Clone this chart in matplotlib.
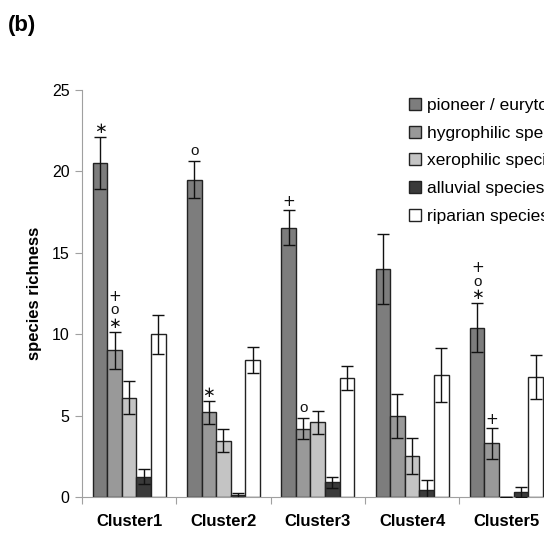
import numpy as np
import matplotlib.pyplot as plt

plt.rcParams['font.family'] = ['Liberation Sans', 'DejaVu Sans']

clusters = ['Cluster1', 'Cluster2', 'Cluster3', 'Cluster4', 'Cluster5']
groups = ['pioneer / eurytopic species', 'hygrophilic species', 'xerophilic species',
          'alluvial species', 'riparian species']

pioneer = [20.5, 19.5, 16.55, 14.0, 10.4]
pioneer_err = [1.6, 1.15, 1.1, 2.15, 1.5]
hygrophilic = [9.0, 5.2, 4.2, 5.0, 3.3]
hygrophilic_err = [1.15, 0.7, 0.65, 1.35, 0.95]
xerophilic = [6.1, 3.45, 4.6, 2.5, 0.0]
xerophilic_err = [1.0, 0.7, 0.7, 1.1, 0.0]
alluvial = [1.25, 0.1, 0.9, 0.45, 0.3]
alluvial_err = [0.45, 0.15, 0.35, 0.6, 0.3]
riparian = [10.0, 8.4, 7.3, 7.5, 7.35]
riparian_err = [1.2, 0.8, 0.75, 1.65, 1.35]

# significance marks: (cluster, group, symbols from top to bottom)
STAR, CIRC, PLUS = r'$\ast$', 'o', r'$+$'
marks = [(0, 0, [STAR]), (0, 1, [PLUS, CIRC, STAR]), (1, 0, [CIRC]), (1, 1, [STAR]),
         (2, 0, [PLUS]), (2, 1, [CIRC]), (4, 0, [PLUS, CIRC, STAR]), (4, 1, [PLUS])]

values = [pioneer, hygrophilic, xerophilic, alluvial, riparian]
errors = [pioneer_err, hygrophilic_err, xerophilic_err, alluvial_err, riparian_err]
colors = ['#7d7d7d', '#999999', '#c4c4c4', '#3a3a3a', '#ffffff']

fig = plt.figure(figsize=(5.44, 5.33), dpi=100)
ax = fig.add_axes([82 / 544, 36 / 533, 471.5 / 544, 407 / 533])

w = 0.155
centers = np.arange(len(clusters)) + 0.5
for j, (vals, errs) in enumerate(zip(values, errors)):
    x = centers + (j - 2) * w
    ax.bar(x, vals, width=w, color=colors[j], edgecolor='#222222', linewidth=1.0,
           label=groups[j], zorder=2)
    ax.errorbar(x, vals, yerr=errs, fmt='none', ecolor='#111111', elinewidth=1.0,
                capsize=4, capthick=1.0, zorder=3)

for ci, gj, syms in marks:
    x = centers[ci] + (gj - 2) * w
    top = values[gj][ci] + errors[gj][ci]
    dy = 6 if syms[-1] == CIRC else 4
    ax.annotate('\n'.join(syms), xy=(x, top), xytext=(0, dy),
                textcoords='offset pixels', ha='center', va='baseline',
                fontsize=11, linespacing=0.96, color='#111111')

ax.set_xlim(0, 5)
ax.set_ylim(0, 25)
ax.set_yticks([0, 5, 10, 15, 20, 25])
ax.set_xticks(np.arange(0, 6))
ax.set_xticklabels([])
ax.set_xticks(centers, minor=True)
ax.set_xticklabels(clusters, minor=True, fontsize=12, fontweight='bold')
ax.tick_params(axis='x', which='major', length=5, color='#a0a0a0')
ax.tick_params(axis='x', which='minor', length=0, pad=12)
ax.tick_params(axis='y', length=5, color='#a0a0a0', labelsize=11.5, pad=4)

for side in ['top', 'right']:
    ax.spines[side].set_visible(False)
for side in ['left', 'bottom']:
    ax.spines[side].set_color('#a0a0a0')

ax.set_ylabel('species richness', fontsize=12, fontweight='bold', labelpad=7)

fig.legend(loc='upper left', bbox_to_anchor=(409 / 544, 1 - 98 / 533), frameon=False,
           fontsize=12.5, handlelength=0.7, handleheight=0.7, handletextpad=0.35,
           labelspacing=0.72, borderpad=0, borderaxespad=0)

fig.text(8 / 544, 1 - 25 / 533, '(b)', fontsize=16, fontweight='bold', va='center')

fig.savefig('out.png', dpi=100)
